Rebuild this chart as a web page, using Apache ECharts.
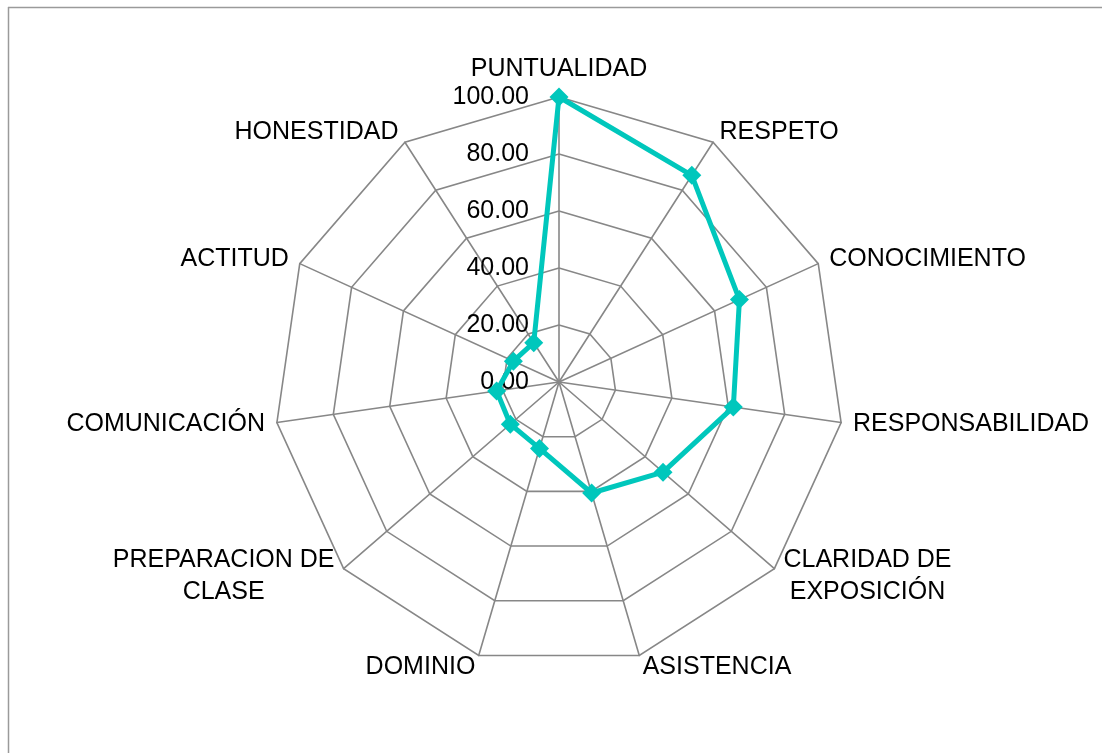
<!DOCTYPE html>
<html>
<head>
<meta charset="utf-8">
<style>
  html, body { margin: 0; padding: 0; background: #ffffff; }
  #chart { width: 1102px; height: 753px; }
</style>
<script src="https://cdn.jsdelivr.net/npm/echarts@6/dist/echarts.min.js"></script>
</head>
<body>
<div id="chart"></div>
<script>
// Categories in clockwise order starting from the top
const categories = [
  'PUNTUALIDAD', 'RESPETO', 'CONOCIMIENTO', 'RESPONSABILIDAD',
  'CLARIDAD DE\nEXPOSICIÓN', 'ASISTENCIA', 'DOMINIO',
  'PREPARACION DE\nCLASE', 'COMUNICACIÓN', 'ACTITUD', 'HONESTIDAD'
];
const values = [100, 86.2, 69.6, 61.8, 48.3, 40.6, 24.3, 22.6, 22.1, 17.6, 16.4];
const axisMax = 100;
const axisSplits = 5;

// ECharts radar places indicators counter-clockwise; reorder to get clockwise layout
const order = [0];
for (let i = categories.length - 1; i >= 1; i--) order.push(i);

const FONT = '"Liberation Sans", Arial, sans-serif';

const indicators = order.map((idx, k) => {
  const ind = { name: categories[idx], min: 0, max: axisMax };
  if (k === 0) {
    ind.axisLabel = {
      show: true,
      formatter: v => Number(v).toFixed(2),
      color: '#000',
      fontSize: 25,
      fontFamily: FONT,
      margin: 30
    };
  }
  return ind;
});
const seriesData = order.map(idx => values[idx]);

const chart = echarts.init(document.getElementById('chart'), null, { renderer: 'canvas' });
chart.setOption({
  backgroundColor: '#ffffff',
  animation: false,
  graphic: [
    { type: 'line', shape: { x1: 8, y1: 7.5, x2: 1102, y2: 7.5 }, style: { stroke: '#9a9a9a', lineWidth: 1.5 } },
    { type: 'line', shape: { x1: 8.5, y1: 7, x2: 8.5, y2: 753 }, style: { stroke: '#9a9a9a', lineWidth: 1.5 } }
  ],
  radar: {
    center: [559, 382],
    radius: 285,
    startAngle: 90,
    shape: 'polygon',
    splitNumber: axisSplits,
    nameGap: 12,
    indicator: indicators,
    axisName: {
      color: '#000',
      fontSize: 25,
      fontFamily: FONT,
      formatter: name => name.split('\n').map(l => '{c|' + l + '}').join('\n'),
      rich: {
        c: { align: 'center', color: '#000', fontSize: 25, fontFamily: FONT, lineHeight: 32 }
      }
    },
    axisLine: { show: true, lineStyle: { color: '#878787', width: 1.6 } },
    splitLine: { show: true, lineStyle: { color: '#878787', width: 1.6 } },
    splitArea: { show: false },
    axisTick: { show: false },
    axisLabel: { show: false }
  },
  series: [{
    type: 'radar',
    symbol: 'diamond',
    symbolSize: 19,
    lineStyle: { color: '#00C7BC', width: 5 },
    itemStyle: { color: '#00C7BC' },
    data: [{ value: seriesData, name: 'Serie 1' }]
  }]
});
</script>
</body>
</html>
